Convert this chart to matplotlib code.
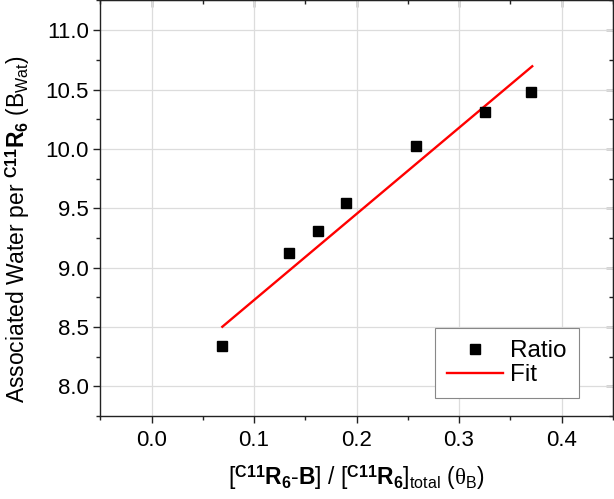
import numpy as np
import matplotlib
matplotlib.use('Agg')
import matplotlib.pyplot as plt
from matplotlib.ticker import MultipleLocator, FormatStrFormatter

plt.rcParams['font.family'] = ['Liberation Sans', 'DejaVu Sans']
plt.rcParams['mathtext.fontset'] = 'custom'
plt.rcParams['mathtext.rm'] = 'Liberation Sans'
plt.rcParams['mathtext.bf'] = 'Liberation Sans:bold'
plt.rcParams['mathtext.sf'] = 'Liberation Sans'
plt.rcParams['mathtext.it'] = 'Liberation Serif'

# data
theta_b = [0.069, 0.134, 0.162, 0.190, 0.258, 0.3255, 0.3705]
b_wat = [8.342, 9.126, 9.311, 9.542, 10.028, 10.311, 10.48]
fit_x = [0.069, 0.3714]
fit_y = [8.502, 10.696]

fig = plt.figure(figsize=(6.14, 4.99), dpi=100)
ax = fig.add_axes([0.1635, 0.1663, 0.8345, 0.8327])

ax.plot(theta_b, b_wat, 's', color='black', markersize=6.5, label='Ratio', zorder=3)
ax.plot(fit_x, fit_y, '-', color='#ff0000', linewidth=1.7, label='Fit', zorder=2)

ax.set_xlim(-0.05, 0.45)
ax.set_ylim(7.75, 11.25)
ax.xaxis.set_major_locator(MultipleLocator(0.1))
ax.xaxis.set_minor_locator(MultipleLocator(0.05))
ax.yaxis.set_major_locator(MultipleLocator(0.5))
ax.yaxis.set_minor_locator(MultipleLocator(0.25))
ax.xaxis.set_major_formatter(FormatStrFormatter('%.1f'))
ax.yaxis.set_major_formatter(FormatStrFormatter('%.1f'))
ax.grid(True, which='major', color='#dcdcdc', linewidth=0.9)
ax.set_axisbelow(True)
ax.tick_params(which='both', direction='out', labelsize=16, color='#222222')
ax.tick_params(which='major', length=4.8, width=1)
ax.tick_params(which='minor', length=2.8, width=1)
ax.tick_params(axis='x', which='major', pad=5)
for s in ax.spines.values():
    s.set_color('#222222')
    s.set_linewidth(1.0)

# mirrored ticks pointing inward on top / right
top = ax.secondary_xaxis('top')
top.xaxis.set_major_locator(MultipleLocator(0.1))
top.xaxis.set_minor_locator(MultipleLocator(0.05))
top.tick_params(which='both', direction='in', labeltop=False, color='#222222')
top.tick_params(which='major', length=4.8, width=1)
top.tick_params(which='minor', length=2.8, width=1)
right = ax.secondary_yaxis('right')
right.yaxis.set_major_locator(MultipleLocator(0.5))
right.yaxis.set_minor_locator(MultipleLocator(0.25))
right.tick_params(which='both', direction='in', labelright=False, color='#222222')
right.tick_params(which='major', length=4.8, width=1)
right.tick_params(which='minor', length=2.8, width=1)

ax.set_xlabel(r'[$^{\mathbf{C11}}\mathbf{R}_{\mathbf{6}}\mathbf{\text{-}B}$] / '
              r'[$^{\mathbf{C11}}\mathbf{R}_{\mathbf{6}}$]$_{\mathrm{total}}$ $(\theta_{\mathsf{B}})$',
              fontsize=16.5, labelpad=9)
ax.set_ylabel(r'Associated Water per $^{\mathbf{C11}}\mathbf{R}_{\mathbf{6}}$ (B$_{\mathrm{Wat}}$)',
              fontsize=16.5, labelpad=10)
ax.yaxis.label.set_y(0.45)

leg = ax.legend(loc='lower right', bbox_to_anchor=(0.9336, 0.0425), borderaxespad=0,
                fontsize=17.5, fancybox=False, edgecolor='#888888', framealpha=1,
                handlelength=2.3, handletextpad=0.3, borderpad=0.5, labelspacing=0.08)
leg.get_frame().set_linewidth(0.8)

fig.savefig('out.png', dpi=100)
